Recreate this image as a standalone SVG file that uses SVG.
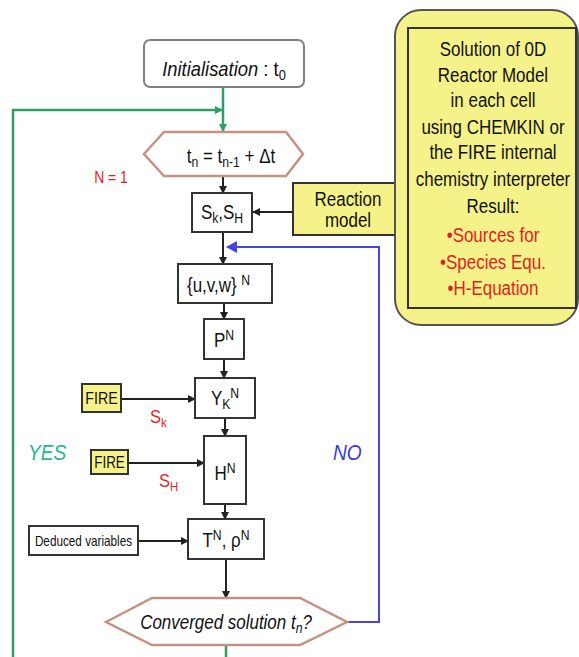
<svg xmlns="http://www.w3.org/2000/svg" width="579" height="657" viewBox="0 0 579 657">
<style>
text{font-family:"Liberation Sans",Arial,sans-serif;fill:#111}
.box{fill:#fff;stroke:#333;stroke-width:2}
.ybox{fill:#f6f28a;stroke:#333;stroke-width:2}
.hex{fill:#fff;stroke:#c49282;stroke-width:2.5}
.blk{stroke:#222;stroke-width:2;fill:none}
.grn{stroke:#2f9e62;stroke-width:2.5;fill:none}
.blu{stroke:#4545dd;stroke-width:2;fill:none}
.red{fill:#e41e1e}
.m{font-size:19.5px}
.c{text-anchor:middle}
</style>
<defs>
<marker id="ab" markerWidth="8" markerHeight="8" refX="7" refY="4" orient="auto" markerUnits="userSpaceOnUse"><path d="M0,0 L8,4 L0,8 z" fill="#222"/></marker>
<marker id="ag" markerWidth="8" markerHeight="8" refX="7" refY="4" orient="auto" markerUnits="userSpaceOnUse"><path d="M0,0 L8,4 L0,8 z" fill="#2f9e62"/></marker>
<marker id="au" markerWidth="12" markerHeight="12" refX="10" refY="6" orient="auto" markerUnits="userSpaceOnUse"><path d="M0,0 L11,6 L0,12 z" fill="#4545dd"/></marker>
</defs>

<g id="connectors">
<line class="grn" x1="223" y1="87" x2="223" y2="131" marker-end="url(#ag)"/>
<polyline class="grn" points="13,657 13,110 222,110" marker-end="url(#ag)"/>
<line class="grn" x1="226" y1="645" x2="226" y2="657"/>
<line class="blk" x1="223" y1="176" x2="223" y2="193" marker-end="url(#ab)"/>
<line class="blk" x1="293" y1="212" x2="253" y2="212" marker-end="url(#ab)"/>
<line class="blk" x1="223" y1="232" x2="223" y2="264" marker-end="url(#ab)"/>
<line class="blk" x1="224" y1="303" x2="224" y2="319" marker-end="url(#ab)"/>
<line class="blk" x1="224" y1="359" x2="224" y2="378" marker-end="url(#ab)"/>
<line class="blk" x1="225" y1="418" x2="225" y2="436" marker-end="url(#ab)"/>
<line class="blk" x1="225" y1="504" x2="225" y2="519" marker-end="url(#ab)"/>
<line class="blk" x1="121" y1="399" x2="195" y2="399" marker-end="url(#ab)"/>
<line class="blk" x1="128" y1="463" x2="204" y2="463" marker-end="url(#ab)"/>
<line class="blk" x1="138" y1="541" x2="188" y2="541" marker-end="url(#ab)"/>
<line class="blk" x1="226" y1="559" x2="226" y2="598" stroke-width="2.5" marker-end="url(#ab)"/>
<polyline class="blu" points="347,622 379,622 379,247 227,247" marker-end="url(#au)"/>
</g>

<g id="init">
<rect x="144" y="40" width="160" height="47" rx="6" fill="#fff" stroke="#808080" stroke-width="2"/>
<text x="224" y="76" font-size="20" class="c" transform="translate(224 0) scale(0.92 1) translate(-224 0)"><tspan font-style="italic">Initialisation</tspan> : t<tspan font-size="14" dy="4">0</tspan></text>
</g>

<g id="timestep">
<polygon class="hex" points="144,154 164,132 286,132 303,154 286,176 164,176"/>
<text x="0" y="163" class="m c" transform="translate(231 0) scale(0.87 1)">t<tspan font-size="14" dy="4">n</tspan><tspan dy="-4"> = t</tspan><tspan font-size="14" dy="4">n-1</tspan><tspan dy="-4"> + Δt</tspan></text>
</g>
<text x="0" y="183" font-size="16" class="c red" transform="translate(111 0) scale(0.87 1)">N = 1</text>

<g id="sources">
<rect class="box" x="192" y="193" width="60" height="39"/>
<text x="0" y="219" class="m c" transform="translate(222 0) scale(0.87 1)">S<tspan font-size="14" dy="4">k</tspan><tspan dy="-4">,S</tspan><tspan font-size="14" dy="4">H</tspan></text>
</g>

<g id="reaction">
<rect class="ybox" x="293" y="183" width="109" height="52"/>
<text x="0" y="206" class="m c" transform="translate(348 0) scale(0.87 1)">Reaction</text>
<text x="0" y="227" class="m c" transform="translate(348 0) scale(0.87 1)">model</text>
</g>

<g id="solution">
<rect x="395" y="10" width="183" height="315" rx="26" fill="#f6f28a" stroke="#555" stroke-width="2"/>
<rect x="408" y="28" width="168" height="280" fill="none" stroke="#333" stroke-width="2"/>
<g class="m c" transform="translate(493 0) scale(0.87 1)">
<text x="0" y="56">Solution of 0D</text>
<text x="0" y="82">Reactor Model</text>
<text x="0" y="107">in each cell</text>
<text x="0" y="134">using CHEMKIN or</text>
<text x="0" y="159">the FIRE internal</text>
<text x="0" y="186">chemistry interpreter</text>
<text x="0" y="213">Result:</text>
<text x="0" y="242" class="red">•Sources for</text>
<text x="0" y="269" class="red">•Species Equ.</text>
<text x="0" y="295" class="red">•H-Equation</text>
</g>
</g>

<g id="velocity">
<rect class="box" x="178" y="264" width="94" height="39"/>
<text x="0" y="292" class="m" transform="translate(187 0) scale(0.87 1)">{u,v,w} <tspan font-size="14" dy="-7">N</tspan></text>
</g>

<g id="pressure">
<rect class="box" x="204" y="319" width="40" height="40"/>
<text x="0" y="347" class="m c" transform="translate(224 0) scale(0.87 1)">P<tspan font-size="14" dy="-7">N</tspan></text>
</g>

<g id="species">
<rect class="box" x="195" y="378" width="60" height="40"/>
<text x="0" y="405" class="m c" transform="translate(225 0) scale(0.87 1)">Y<tspan font-size="14" dy="4">K</tspan><tspan font-size="14" dy="-11">N</tspan></text>
</g>

<g id="fire1">
<rect class="ybox" x="82" y="384" width="39" height="28"/>
<text x="0" y="404" font-size="17" class="c" transform="translate(101.5 0) scale(0.84 1)">FIRE</text>
</g>
<text x="0" y="423" font-size="19" class="red" transform="translate(150 0) scale(0.87 1)">S<tspan font-size="13" dy="4">k</tspan></text>

<g id="enthalpy">
<rect class="box" x="204" y="436" width="42" height="68"/>
<text x="0" y="480" class="m c" transform="translate(225 0) scale(0.87 1)">H<tspan font-size="14" dy="-7">N</tspan></text>
</g>

<g id="fire2">
<rect class="ybox" x="91" y="450" width="37" height="24"/>
<text x="0" y="468" font-size="16" class="c" transform="translate(109.5 0) scale(0.84 1)">FIRE</text>
</g>
<text x="0" y="487" font-size="19" class="red" transform="translate(159 0) scale(0.87 1)">S<tspan font-size="13" dy="4">H</tspan></text>

<text x="0" y="460" font-size="22" font-style="italic" style="fill:#22b894" transform="translate(28 0) scale(0.87 1)">YES</text>
<text x="0" y="460" font-size="22" font-style="italic" style="fill:#3a3ad8" transform="translate(333 0) scale(0.87 1)">NO</text>

<g id="temperature">
<rect class="box" x="188" y="519" width="76" height="40"/>
<text x="0" y="547" class="m c" transform="translate(226 0) scale(0.87 1)">T<tspan font-size="14" dy="-7">N</tspan><tspan dy="7">, ρ</tspan><tspan font-size="14" dy="-7">N</tspan></text>
</g>

<g id="deduced">
<rect class="box" x="29" y="526" width="109" height="29"/>
<text x="0" y="546" font-size="14" class="c" transform="translate(83.5 0) scale(0.84 1)">Deduced variables</text>
</g>

<g id="converged">
<polygon class="hex" points="106,622 152,598 300,598 347,622 300,645 152,645"/>
<text x="0" y="629" class="m c" font-style="italic" transform="translate(226 0) scale(0.87 1)">Converged solution t<tspan font-size="14" dy="4">n</tspan><tspan dy="-4">?</tspan></text>
</g>
</svg>
